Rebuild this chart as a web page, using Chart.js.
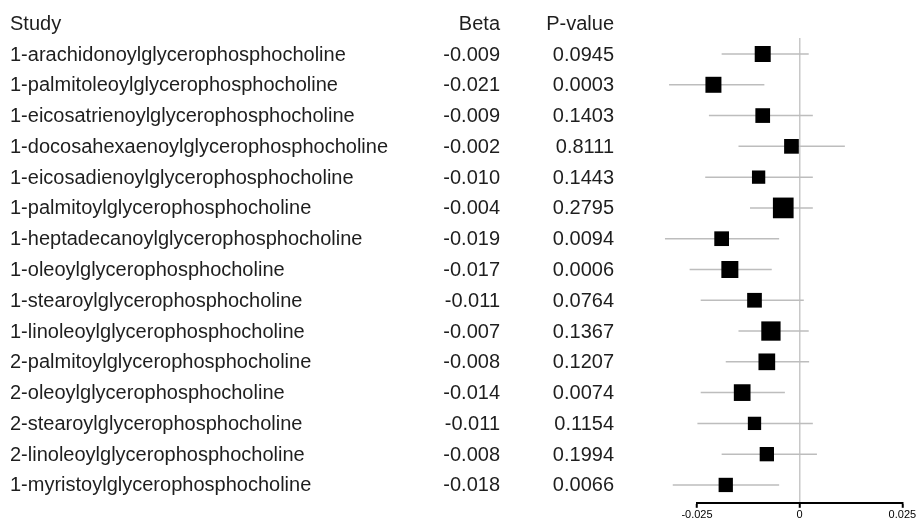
<!DOCTYPE html>
<html>
<head>
<meta charset="utf-8">
<script src="https://cdn.jsdelivr.net/npm/chart.js@4/dist/chart.umd.min.js"></script>
<style>
  html, body { margin: 0; padding: 0; background: #fff; }
  #wrap { width: 917px; height: 523px; }
</style>
</head>
<body>
<div id="wrap"><canvas id="forest"></canvas></div>
<script>
// data
const studies = [
    '1-arachidonoylglycerophosphocholine',
    '1-palmitoleoylglycerophosphocholine',
    '1-eicosatrienoylglycerophosphocholine',
    '1-docosahexaenoylglycerophosphocholine',
    '1-eicosadienoylglycerophosphocholine',
    '1-palmitoylglycerophosphocholine',
    '1-heptadecanoylglycerophosphocholine',
    '1-oleoylglycerophosphocholine',
    '1-stearoylglycerophosphocholine',
    '1-linoleoylglycerophosphocholine',
    '2-palmitoylglycerophosphocholine',
    '2-oleoylglycerophosphocholine',
    '2-stearoylglycerophosphocholine',
    '2-linoleoylglycerophosphocholine',
    '1-myristoylglycerophosphocholine'
];
const beta = [-0.009, -0.021, -0.009, -0.002, -0.010, -0.004, -0.019, -0.017, -0.011, -0.007, -0.008, -0.014, -0.011, -0.008, -0.018];
const pValues = ['0.0945', '0.0003', '0.1403', '0.8111', '0.1443', '0.2795', '0.0094', '0.0006', '0.0764', '0.1367', '0.1207', '0.0074', '0.1154', '0.1994', '0.0066'];
const ciLow = [-0.0190, -0.0318, -0.0221, -0.0149, -0.0230, -0.0121, -0.0328, -0.0268, -0.0241, -0.0149, -0.0180, -0.0241, -0.0249, -0.0190, -0.0309];
const ciHigh = [0.0022, -0.0086, 0.0032, 0.0110, 0.0032, 0.0032, -0.0050, -0.0068, 0.0010, 0.0022, 0.0023, -0.0036, 0.0032, 0.0042, -0.0050];
const xTicks = [-0.025, 0, 0.025];

// box side in px for each study (weight)
const boxSide = [16, 16, 14.7, 14.7, 13.3, 20.7, 14.7, 17, 14.7, 19.3, 16.7, 16.7, 13.3, 14.3, 14.3];

const textColor = '#1e1e1e';
const font = '20px "Liberation Sans", Arial, sans-serif';

// CI whiskers, one small line dataset per study
const ciSets = studies.map((s, i) => ({
    type: 'line',
    data: [{ x: ciLow[i], y: i + 1 }, { x: ciHigh[i], y: i + 1 }],
    borderColor: '#bdbdbd',
    borderWidth: 1.5,
    pointRadius: 0,
    clip: false,
    order: 2
}));

const boxes = {
    type: 'scatter',
    data: beta.map((b, i) => ({ x: b, y: i + 1 })),
    pointStyle: 'rect',
    pointRadius: boxSide.map(s => s / Math.SQRT2),
    backgroundColor: '#000',
    borderWidth: 0,
    clip: false,
    order: 1
};

// table of study / beta / p-value drawn beside the plot
const tableText = {
    id: 'tableText',
    afterDraw(chart) {
        const y = chart.scales.y;
        const ctx = chart.ctx;
        ctx.save();
        ctx.font = font;
        ctx.fillStyle = textColor;
        ctx.textBaseline = 'middle';

        const rows = [['Study', 'Beta', 'P-value']].concat(
            studies.map((s, i) => [s, beta[i].toFixed(3), pValues[i]])
        );
        rows.forEach((r, i) => {
            const py = y.getPixelForValue(i) + 1;
            ctx.textAlign = 'left';
            ctx.fillText(r[0], 10, py);
            ctx.textAlign = 'right';
            ctx.fillText(r[1], 500, py);
            ctx.fillText(r[2], 614, py);
        });
        ctx.restore();
    }
};

new Chart(document.getElementById('forest'), {
    data: { datasets: ciSets.concat([boxes]) },
    options: {
        responsive: true,
        maintainAspectRatio: false,
        animation: false,
        layout: { padding: { left: 697, right: 11, top: 38, bottom: 0 } },
        plugins: { legend: { display: false }, tooltip: { enabled: false } },
        scales: {
            x: {
                type: 'linear',
                min: -0.025,
                max: 0.025,
                afterBuildTicks: axis => { axis.ticks = xTicks.map(v => ({ value: v })); },
                // let the end labels hang over like in the original
                afterFit: axis => { axis.paddingLeft = 0; axis.paddingRight = 0; },
                ticks: {
                    color: '#000',
                    padding: 1,
                    maxRotation: 0,
                    font: { size: 11, family: '"Liberation Sans", Arial, sans-serif' },
                    callback: v => String(v)
                },
                grid: {
                    drawOnChartArea: true,
                    drawTicks: true,
                    tickLength: 5,
                    tickWidth: 2,
                    tickColor: '#000',
                    lineWidth: 1.5,
                    color: c => (c.tick && c.tick.value === 0 ? '#c8c8c8' : 'rgba(0,0,0,0)')
                },
                border: { display: true, color: '#000', width: 2 }
            },
            y: {
                type: 'linear',
                reverse: true,
                min: 0.48,
                max: 15.58,
                display: false
            }
        }
    },
    plugins: [tableText]
});
</script>
</body>
</html>
